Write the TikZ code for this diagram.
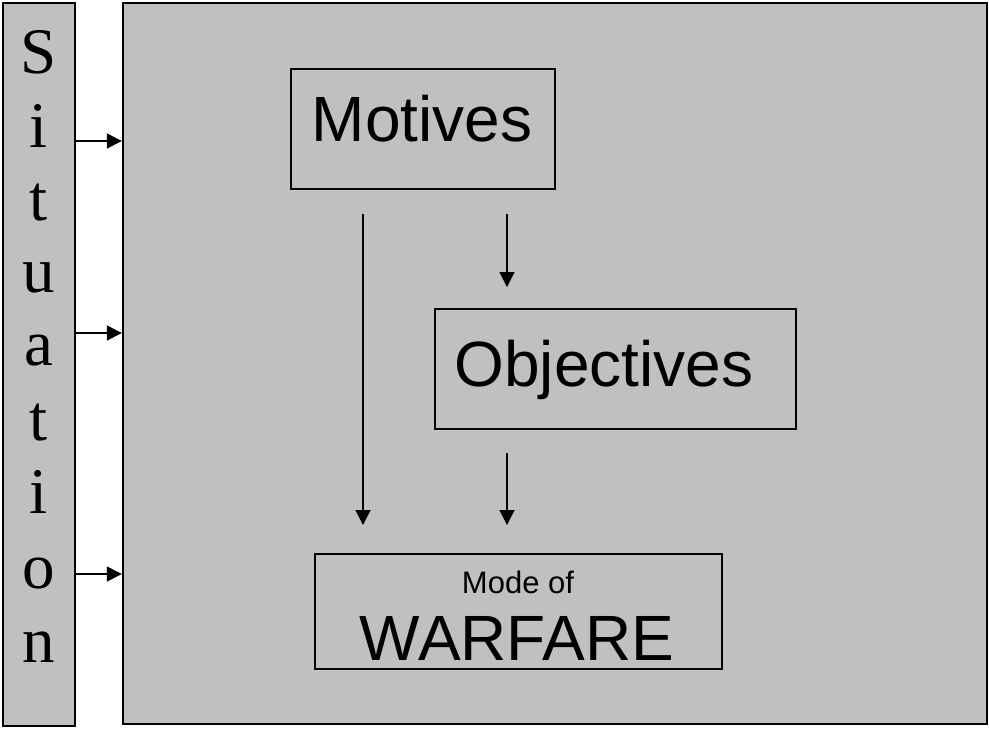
\documentclass[tikz,border=0pt]{standalone}
\usepackage{fontspec}
\setmainfont{Liberation Sans}
\newfontfamily\timesf{Liberation Serif}
\usetikzlibrary{arrows.meta}
\definecolor{panel}{HTML}{C0C0C0}
\tikzset{
  frame/.style={draw=black, line width=2.4pt, fill=panel, inner sep=0pt},
  inbox/.style={draw=black, line width=1.5pt, inner sep=0pt},
  letter/.style={anchor=base, inner sep=0pt, font=\timesf\fontsize{65}{70}\selectfont},
  biglbl/.style={anchor=base, inner sep=0pt, font=\fontsize{64}{70}\selectfont},
  smalllbl/.style={anchor=base, inner sep=0pt, font=\fontsize{31}{36}\selectfont},
  arr/.style={line width=1.3pt, -{Triangle[length=15pt,width=15pt]}}
}
\begin{document}
\begin{tikzpicture}[x=1pt,y=-1pt]
\useasboundingbox (0,0) rectangle (989,729);
% frames
\node[frame, minimum width=72pt, minimum height=723pt] (bar) at (39,364.5) {};
\node[frame, minimum width=864pt, minimum height=721pt] (main) at (555,363.5) {};
% Situation letters
\foreach \ch/\yb [count=\k] in {S/73,i/147,t/220,u/292,a/365,t/440,i/513,o/588,n/662}
  \node[letter] (L\k) at (39,\yb) {\ch};
% arrows from bar
\foreach \k/\yy in {1/141,2/333,3/574}{
  \coordinate (s\k) at (0,\yy);
  \draw[arr] (bar.east |- s\k) -- (main.west |- s\k);
}
% inner boxes
\node[inbox, minimum width=264pt, minimum height=120pt] (mot) at (423,129) {};
\node[biglbl] (motT) at (422,141) {Motives};
\node[inbox, minimum width=361pt, minimum height=120pt] (obj) at (615.5,369) {};
\node[biglbl] (objT) at (604,386) {Objectives};
\node[inbox, minimum width=407pt, minimum height=115pt] (war) at (518.5,611.5) {};
\node[smalllbl] (modeT) at (518,593) {Mode of};
\node[biglbl] (warT) at (517,660) {WARFARE};
% inner arrows
\coordinate (a1s) at (363,214);
\coordinate (a1e) at (363,525);
\coordinate (a2s) at (507,214);
\coordinate (a2e) at (507,287);
\coordinate (a3s) at (507,453);
\coordinate (a3e) at (507,525);
\draw[arr] (a1s) -- (a1e);
\draw[arr] (a2s) -- (a2e);
\draw[arr] (a3s) -- (a3e);
\end{tikzpicture}
\end{document}
